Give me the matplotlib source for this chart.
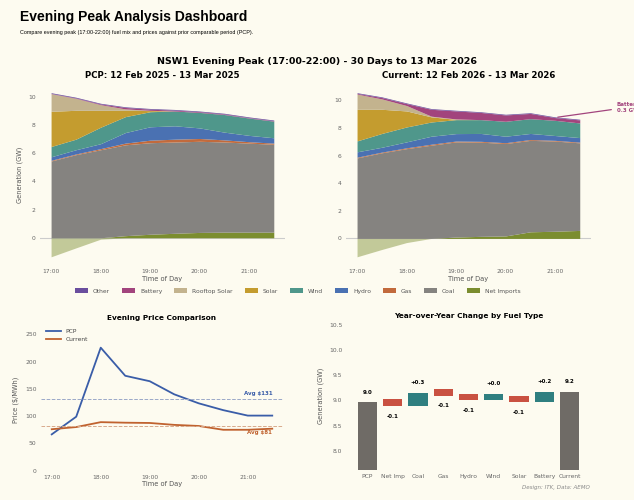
import numpy as np
import matplotlib
matplotlib.use('Agg')
import matplotlib.pyplot as plt
from matplotlib.patches import Patch

# ---- data ----
times = [17.0, 17.5, 18.0, 18.5, 19.0, 19.5, 20.0, 20.5, 21.0, 21.5]
hour_ticks = [17, 18, 19, 20, 21]
hour_labels = ['17:00', '18:00', '19:00', '20:00', '21:00']

# PCP fuel mix (GW)
pcp_net_imports = [-1.35, -0.72, -0.10, 0.15, 0.25, 0.32, 0.38, 0.40, 0.40, 0.40]
pcp_coal = [5.45, 5.90, 6.25, 6.45, 6.50, 6.48, 6.47, 6.40, 6.32, 6.24]
pcp_gas = [0.05, 0.05, 0.08, 0.12, 0.18, 0.20, 0.20, 0.15, 0.10, 0.08]
pcp_hydro = [0.25, 0.30, 0.35, 0.75, 0.95, 0.95, 0.75, 0.55, 0.45, 0.38]
pcp_wind = [0.73, 0.75, 1.17, 1.13, 1.07, 1.05, 1.10, 1.25, 1.23, 1.18]
pcp_solar = [2.50, 2.05, 1.20, 0.45, 0.08, 0.0, 0.0, 0.0, 0.0, 0.0]
pcp_rooftop = [1.25, 0.85, 0.40, 0.10, 0.02, 0.0, 0.0, 0.0, 0.0, 0.0]
pcp_battery = [0.02, 0.03, 0.05, 0.10, 0.08, 0.06, 0.05, 0.04, 0.03, 0.03]
pcp_other = [0.05, 0.05, 0.05, 0.05, 0.05, 0.05, 0.05, 0.05, 0.05, 0.05]

# Current fuel mix (GW)
cur_net_imports = [-1.33, -0.80, -0.30, 0.0, 0.10, 0.15, 0.18, 0.48, 0.52, 0.58]
cur_coal = [5.83, 6.20, 6.50, 6.75, 6.89, 6.82, 6.69, 6.62, 6.53, 6.34]
cur_gas = [0.05, 0.05, 0.06, 0.07, 0.06, 0.06, 0.06, 0.06, 0.05, 0.05]
cur_hydro = [0.39, 0.35, 0.43, 0.58, 0.54, 0.57, 0.47, 0.44, 0.35, 0.33]
cur_wind = [0.79, 1.00, 1.08, 1.03, 1.01, 1.00, 1.08, 1.07, 1.10, 1.06]
cur_solar = [2.29, 1.75, 1.16, 0.37, 0.02, 0.0, 0.0, 0.0, 0.0, 0.0]
cur_rooftop = [1.10, 0.75, 0.39, 0.05, 0.03, 0.0, 0.0, 0.0, 0.0, 0.0]
cur_battery = [0.05, 0.10, 0.14, 0.50, 0.58, 0.52, 0.46, 0.38, 0.20, 0.22]
cur_other = [0.05, 0.05, 0.05, 0.05, 0.05, 0.05, 0.05, 0.05, 0.05, 0.05]

# prices ($/MWh)
pcp_price = [66.6, 99, 225.5, 174, 164, 140, 123.5, 111, 101, 101]
cur_price = [76, 80, 89, 88, 87.5, 84, 82, 75, 75, 77]

# waterfall
wf_labels = ['PCP', 'Net Imp', 'Coal', 'Gas', 'Hydro', 'Wind', 'Solar', 'Battery', 'Current']
wf_start = 8.96
wf_deltas = [-0.07, 0.26, -0.06, -0.09, 0.02, -0.06, 0.21]

fuels = ['Net Imports', 'Coal', 'Gas', 'Hydro', 'Wind', 'Solar', 'Rooftop Solar', 'Battery', 'Other']
colors = {
    'Other': '#6a4e9e',
    'Battery': '#a2447d',
    'Rooftop Solar': '#c3b38e',
    'Solar': '#c49c2f',
    'Wind': '#4f978b',
    'Hydro': '#4a71b2',
    'Gas': '#c26a3c',
    'Coal': '#858380',
    'Net Imports': '#7b8d2f',
}
bg = '#fdfbf0'
tick_col = '#666666'

pcp_mix = [pcp_net_imports, pcp_coal, pcp_gas, pcp_hydro, pcp_wind, pcp_solar,
           pcp_rooftop, pcp_battery, pcp_other]
cur_mix = [cur_net_imports, cur_coal, cur_gas, cur_hydro, cur_wind, cur_solar,
           cur_rooftop, cur_battery, cur_other]

plt.rcParams['font.family'] = ['DejaVu Sans']

fig = plt.figure(figsize=(6.34, 5.0), dpi=100, facecolor=bg)


def style_axis(ax):
    ax.set_facecolor(bg)
    for s in ax.spines.values():
        s.set_visible(False)
    ax.tick_params(length=0, labelsize=4.3, colors=tick_col, pad=3)


def draw_mix(ax, mix, title):
    t = np.array(times)
    ni = np.array(mix[0])
    ax.axhline(0, color='#cccccc', lw=0.8, zorder=0)
    ax.fill_between(t, 0, np.clip(ni, None, 0), color=colors['Net Imports'], alpha=0.45, lw=0)
    bottom = np.clip(ni, 0, None)
    ax.fill_between(t, 0, bottom, color=colors['Net Imports'], lw=0)
    for fuel, vals in zip(fuels[1:], mix[1:]):
        top = bottom + np.array(vals)
        ax.fill_between(t, bottom, top, color=colors[fuel], lw=0)
        bottom = top
    style_axis(ax)
    ax.set_xlim(16.775, 21.725)
    ax.set_xticks(hour_ticks)
    ax.set_xticklabels(hour_labels)
    ax.set_yticks([0, 2, 4, 6, 8, 10])
    ax.set_xlabel('Time of Day', fontsize=4.8, color='#555555', labelpad=1)
    ax.set_title(title, fontsize=6.2, fontweight='bold', pad=5)


ax1 = fig.add_axes([0.063, 0.470, 0.3864, 0.361])
draw_mix(ax1, pcp_mix, 'PCP: 12 Feb 2025 - 13 Mar 2025')
ax1.set_ylabel('Generation (GW)', fontsize=4.8, color='#555555')

ax2 = fig.add_axes([0.5456, 0.470, 0.3864, 0.361])
draw_mix(ax2, cur_mix, 'Current: 12 Feb 2026 - 13 Mar 2026')
bat_top = np.sum(np.array(cur_mix[:8]), axis=0)
ax2.annotate('Battery\n0.3 GW', xy=(times[8], bat_top[8]), xytext=(22.25, 9.5),
             fontsize=4, fontweight='bold', color=colors['Battery'], va='center', ha='left',
             annotation_clip=False,
             arrowprops=dict(arrowstyle='-', color=colors['Battery'], lw=0.9))

# legend
handles = [Patch(facecolor=colors[f], label=f) for f in fuels[::-1]]
fig.legend(handles=handles, loc='center', bbox_to_anchor=(0.47, 0.418), ncol=9,
           frameon=False, fontsize=4.3, handlelength=2.2, handleheight=0.8,
           columnspacing=2.0, labelcolor='#555555')

# header texts
fig.text(0.032, 0.965, 'Evening Peak Analysis Dashboard', fontsize=10, fontweight='bold',
         family='Liberation Sans', va='center')
fig.text(0.032, 0.935, 'Compare evening peak (17:00-22:00) fuel mix and prices against prior comparable period (PCP).',
         fontsize=3.9, family='Liberation Sans', va='center')
fig.text(0.5, 0.876, 'NSW1 Evening Peak (17:00-22:00) - 30 Days to 13 Mar 2026',
         fontsize=6.8, fontweight='bold', ha='center', va='center')

# price chart
ax3 = fig.add_axes([0.0642, 0.0586, 0.3826, 0.2826])
style_axis(ax3)
ax3.plot(times, pcp_price, color='#3a5da8', lw=1.3, label='PCP')
ax3.plot(times, cur_price, color='#c0622f', lw=1.3, label='Current')
pcp_avg = np.mean(pcp_price)
cur_avg = np.mean(cur_price)
ax3.axhline(pcp_avg, color='#9aa8c8', lw=0.7, ls='--')
ax3.axhline(cur_avg, color='#d8aa8c', lw=0.7, ls='--')
ax3.text(21.5, pcp_avg + 6, f'Avg ${pcp_avg:.0f}', ha='right', va='bottom', fontsize=4,
         fontweight='bold', color='#3a5da8')
ax3.text(21.5, cur_avg - 6, f'Avg ${cur_avg:.0f}', ha='right', va='top', fontsize=4,
         fontweight='bold', color='#c0622f')
ax3.set_xlim(16.775, 21.725)
ax3.set_ylim(0, 259)
ax3.set_xticks(hour_ticks)
ax3.set_xticklabels(hour_labels)
ax3.set_yticks([0, 50, 100, 150, 200, 250])
ax3.set_xlabel('Time of Day', fontsize=4.8, color='#555555', labelpad=1)
ax3.set_ylabel('Price ($/MWh)', fontsize=4.8, color='#555555')
ax3.set_title('Evening Price Comparison', fontsize=5.3, fontweight='bold', pad=7)
ax3.legend(loc='upper left', frameon=False, fontsize=4.3, handlelength=2.5,
           bbox_to_anchor=(0.0, 1.04), labelcolor='#444444')

# waterfall
ax4 = fig.add_axes([0.5467, 0.060, 0.3845, 0.2954])
style_axis(ax4)
bar_w = 0.76
ax4.bar(0, wf_start - 7.0, bottom=7.0, width=bar_w, color='#6f6b66')
ax4.text(0, wf_start + 0.2, f'{wf_start:.1f}', ha='center', va='center', fontsize=4, fontweight='bold')
running = wf_start
for i, d in enumerate(wf_deltas, start=1):
    new = running + d
    lo = min(running, new)
    h = max(abs(d), 0.13)
    col = '#2f7f80' if d >= 0 else '#c95141'
    ax4.bar(i, h, bottom=lo, width=bar_w, color=col)
    if d >= 0:
        ax4.text(i, lo + h + 0.2, f'{d:+.1f}', ha='center', va='center', fontsize=4, fontweight='bold')
    else:
        ax4.text(i, lo - 0.2, f'{d:+.1f}', ha='center', va='center', fontsize=4, fontweight='bold')
    running = new
n = len(wf_labels) - 1
ax4.bar(n, running - 7.0, bottom=7.0, width=bar_w, color='#6f6b66')
ax4.text(n, running + 0.2, f'{running:.1f}', ha='center', va='center', fontsize=4, fontweight='bold')
ax4.set_xticks(range(len(wf_labels)))
ax4.set_xticklabels(wf_labels)
ax4.set_xlim(-0.818, 8.818)
ax4.set_ylim(7.62, 10.55)
ax4.set_yticks([8.0, 8.5, 9.0, 9.5, 10.0, 10.5])
ax4.set_ylabel('Generation (GW)', fontsize=4.8, color='#555555')
ax4.set_title('Year-over-Year Change by Fuel Type', fontsize=5.3, fontweight='bold', pad=3)

fig.text(0.93, 0.026, 'Design: ITK, Data: AEMO', ha='right', va='center', fontsize=4,
         style='italic', color='#888888')

fig.savefig('out.png', dpi=100, facecolor=bg)
